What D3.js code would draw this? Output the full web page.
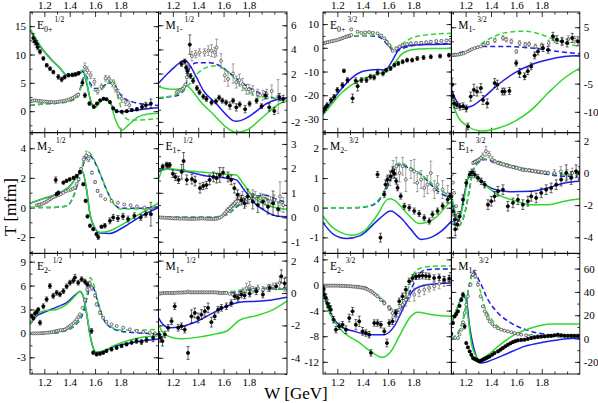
<!DOCTYPE html>
<html>
<head>
<meta charset="utf-8">
<script src="https://cdn.jsdelivr.net/npm/d3@7"></script>
<style>
  body { margin: 0; background: #fff; }
  svg { display: block; }
  text { font-family: "Liberation Serif", "DejaVu Serif", serif; }
</style>
</head>
<body>
<div class="chart"></div>
<script>
'use strict';

// W axis (GeV), shared by all panels
const wTicks = [1.2, 1.4, 1.6, 1.8];
const wMinor = [1.1, 1.3, 1.5, 1.7, 1.9, 2.0];

// ---- E0+ 1/2 ----
const E0p1_gs = [[1.087,14.6],[1.166,11.6],[1.244,9.3],[1.323,7.6],[1.38,6.4],[1.44,6.4],[1.48,6.9],[1.505,7.3],[1.533,5.2],[1.56,2.2],[1.585,0.8],[1.6,0.6],[1.64,1.6],[1.68,2.2],[1.717,1.6],[1.757,-1.3],[1.796,-3.05],[1.814,-3.35],[1.86,-2.5],[1.94,-1.0],[2.02,-0.5],[2.1,-0.35]];
const E0p1_bs = [[1.087,14.3],[1.166,11.5],[1.244,9.4],[1.323,7.6],[1.38,6.3],[1.44,6.3],[1.48,6.7],[1.505,7.0],[1.533,5.0],[1.56,2.3],[1.585,0.8],[1.6,0.7],[1.64,1.7],[1.68,2.2],[1.717,1.5],[1.757,0.2],[1.8,-0.1],[1.9,0.1],[2.0,0.4],[2.1,0.6]];
const E0p1_gd = [[1.087,1.0],[1.2,1.3],[1.3,1.4],[1.4,1.7],[1.46,2.4],[1.49,4.2],[1.52,6.2],[1.56,4.6],[1.6,3.6],[1.65,3.9],[1.7,4.9],[1.745,5.6],[1.77,3.6],[1.8,0.9],[1.83,-1.0],[1.88,-1.6],[2.0,-1.5],[2.1,-1.3]];
const E0p1_bd = [[1.087,1.0],[1.2,1.3],[1.3,1.4],[1.4,1.8],[1.46,2.6],[1.49,4.5],[1.52,6.4],[1.56,5.0],[1.6,4.0],[1.65,4.2],[1.7,4.9],[1.745,5.0],[1.78,3.6],[1.82,2.4],[1.9,1.6],[2.0,1.2],[2.1,1.0]];
const E0p1_re = [[1.113,12.9,0.8],[1.126,12.3,0.6],[1.14,11.9,0.6],[1.148,11.3,0.5],[1.166,10.5,0.4],[1.192,9.3,0.3],[1.219,8.1,0.3],[1.245,7.5,0.3],[1.271,6.9,0.3],[1.31,6.05,0.4],[1.337,5.6,0.4],[1.36,6.0,0.3],[1.39,6.35,0.3],[1.42,6.4,0.3],[1.445,6.5,0.3],[1.47,6.7,0.3],[1.5,5.0,0.5],[1.52,2.8,0.4],[1.555,1.35,0.3],[1.59,0.8,0.3],[1.615,1.35,0.2],[1.64,1.9,0.2],[1.667,2.2,0.2],[1.69,2.1,0.2],[1.717,1.6,0.2],[1.743,0.5,0.2],[1.77,0.0,0.2],[1.81,-0.1,0.2],[1.85,0.0,0.2],[1.89,0.2,0.2],[1.93,0.35,0.3],[1.97,0.75,0.4],[2.0,1.05,0.5],[2.04,1.35,0.8]];
const E0p1_im = [[1.095,1.75,0],[1.11,1.85,0],[1.125,1.9,0],[1.14,1.85,0],[1.155,1.8,0],[1.17,1.8,0],[1.185,1.75,0],[1.2,1.7,0],[1.215,1.7,0],[1.23,1.65,0],[1.245,1.6,0],[1.26,1.6,0],[1.275,1.55,0],[1.29,1.6,0],[1.305,1.65,0],[1.32,1.7,0],[1.335,1.75,0],[1.35,1.8,0],[1.365,1.85,0],[1.38,1.95,0],[1.395,2.05,0],[1.41,2.2,0],[1.425,2.35,0],[1.44,2.55,0],[1.455,2.75,0],[1.467,2.9,0.2],[1.52,7.8,0.7],[1.54,7.2,0.6],[1.565,6.35,0.6],[1.595,5.2,0.6],[1.62,3.5,0.5],[1.65,4.3,0.5],[1.683,5.8,0.5],[1.71,5.7,0.5],[1.737,4.9,0.6],[1.76,4.0,0.6],[1.782,3.1,0.7],[1.81,2.2,0.7],[1.84,1.6,0.6],[1.87,1.06,0.6]];

// ---- M1- 1/2 ----
const M1m1_bs = [[1.087,1.2],[1.15,1.9],[1.22,2.6],[1.294,3.1],[1.34,2.6],[1.386,1.7],[1.44,0.6],[1.543,-0.5],[1.62,-1.4],[1.675,-1.9],[1.7,-1.96],[1.76,-1.8],[1.83,-1.35],[1.937,-0.5],[2.02,-0.15],[2.1,-0.05]];
const M1m1_gs = [[1.087,0.9],[1.18,0.7],[1.26,0.75],[1.306,1.0],[1.36,0.5],[1.412,-0.25],[1.517,-1.35],[1.622,-2.45],[1.7,-2.87],[1.78,-2.7],[1.91,-1.6],[2.04,-0.5],[2.1,-0.25]];
const M1m1_bd = [[1.087,0.0],[1.23,0.17],[1.294,0.7],[1.334,2.5],[1.39,2.9],[1.49,2.9],[1.57,2.65],[1.675,1.8],[1.8,0.85],[1.93,0.17],[2.1,-0.25]];
const M1m1_gd = [[1.087,0.0],[1.255,0.35],[1.306,0.8],[1.39,1.96],[1.465,2.5],[1.543,2.65],[1.65,2.0],[1.727,1.1],[1.83,0.3],[1.93,0.0],[2.1,-0.1]];
const M1m1_re = [[1.268,2.8,0.2],[1.294,3.0,0.2],[1.305,2.5,0.2],[1.315,2.2,0.2],[1.334,4.4,0.8],[1.34,1.8,0.2],[1.36,1.4,0.2],[1.39,0.8,0.2],[1.41,0.45,0.2],[1.44,0.1,0.2],[1.465,-0.1,0.2],[1.505,-0.4,0.2],[1.54,-0.3,0.2],[1.565,0.0,0.2],[1.59,-0.25,0.2],[1.62,-0.4,0.2],[1.65,-0.65,0.3],[1.675,-0.25,0.2],[1.7,-0.8,0.3],[1.727,-0.55,0.2],[1.77,-0.95,0.3],[1.805,-0.5,0.2],[1.86,-0.25,0.2],[1.9,-0.7,0.2],[1.93,0.2,0.3],[1.96,-0.8,0.3],[2.0,-1.1,0.3],[2.04,0.05,0.3],[2.07,-0.1,0.3]];
const M1m1_im = [[1.23,0.45,0],[1.243,0.5,0],[1.255,0.6,0],[1.268,0.65,0],[1.28,0.75,0],[1.29,0.9,0],[1.3,1.1,0],[1.31,1.7,0.3],[1.32,2.5,0.3],[1.35,3.45,0.4],[1.38,3.6,0.3],[1.41,3.75,0.3],[1.45,3.75,0.3],[1.48,3.9,0.4],[1.505,3.9,0.5],[1.53,3.75,0.4],[1.545,4.15,0.7],[1.58,3.05,0.6],[1.61,1.85,0.5],[1.635,1.55,0.6],[1.675,2.0,0.8],[1.7,1.3,0.5],[1.725,1.45,0.5],[1.75,1.1,0.5],[1.78,0.7,0.4],[1.8,0.7,0.4],[1.83,0.6,0.4],[1.87,0.3,0.4],[1.91,0.2,0.4],[1.94,0.3,0.4],[1.98,0.55,0.5],[2.03,0.1,1.4]];

// ---- E0+ 3/2 ----
const E0p3_gs = [[1.087,-28.4],[1.15,-24.2],[1.23,-19.2],[1.31,-15.7],[1.41,-12.9],[1.517,-11.1],[1.6,-9.7],[1.65,-6.6],[1.7,-3.1],[1.757,-1.25],[1.835,-0.55],[1.95,-0.3],[2.1,-0.3]];
const E0p3_bs = [[1.087,-27.6],[1.15,-23.0],[1.23,-17.5],[1.31,-12.9],[1.41,-9.8],[1.517,-9.1],[1.58,-9.4],[1.62,-6.6],[1.65,-3.8],[1.68,-1.0],[1.728,0.7],[1.806,1.15],[1.95,1.4],[2.1,1.6]];
const E0p3_gd = [[1.087,1.7],[1.2,3.0],[1.31,5.0],[1.42,5.3],[1.517,5.3],[1.6,2.55],[1.65,-1.0],[1.7,1.15],[1.78,4.0],[1.885,5.35],[2.1,6.1]];
const E0p3_bd = [[1.087,1.7],[1.2,3.0],[1.31,4.8],[1.42,5.1],[1.517,4.8],[1.61,0.45],[1.65,-1.7],[1.71,-0.3],[1.83,1.15],[2.1,1.85]];
const E0p3_re = [[1.092,-26.3,1],[1.105,-25.3,1],[1.12,-24.2,1],[1.15,-22.1,1],[1.175,-20.7,1],[1.2,-17.8,1],[1.24,-15.7,1],[1.252,-9.7,0.7],[1.28,-13.6,1],[1.32,-21.3,1.8],[1.345,-13.9,1.2],[1.36,-16.2,2],[1.39,-13.6,1],[1.43,-13.6,1],[1.46,-12.2,1],[1.49,-12.5,1],[1.517,-10.5,1],[1.56,-10.8,1],[1.584,-9.4,0.8],[1.62,-8.7,0.8],[1.65,-7.3,0.8],[1.68,-6.6,0.8],[1.715,-5.9,0.8],[1.75,-5.2,0.8],[1.79,-5.2,0.8],[1.83,-4.5,0.8],[1.88,-4.1,0.8],[1.937,-3.8,0.8],[2.01,-3.5,0.8],[2.08,-3.1,0.8]];
const E0p3_im = [[1.087,1.85,0],[1.1,2.0,0],[1.11,2.2,0],[1.125,2.4,0],[1.14,2.6,0],[1.155,2.8,0],[1.17,3.0,0],[1.185,3.1,0],[1.2,3.25,0],[1.215,3.6,0],[1.23,3.9,0],[1.245,4.2,0],[1.26,4.5,0],[1.273,4.7,0],[1.285,4.9,0],[1.298,5.1,0],[1.31,5.4,0],[1.31,7.75,0.4],[1.36,6.75,0.3],[1.39,6.3,0.3],[1.42,6.5,0.3],[1.45,6.6,0.3],[1.48,6.3,0.3],[1.517,6.1,0.3],[1.545,5.2,0.3],[1.57,4.0,0.3],[1.59,2.5,0.3],[1.61,1.15,0.3],[1.636,-1.25,0.4],[1.665,-0.25,0.5],[1.69,0.5,0.5],[1.715,1.15,0.5],[1.75,1.5,0.5],[1.78,1.85,0.5],[1.82,2.0,0.5],[1.86,2.1,0.5],[1.9,2.3,0.5],[1.937,2.55,0.5],[1.98,2.8,0.5],[2.02,2.9,0.5],[2.06,3.1,0.5],[2.09,3.25,0.5]];

// ---- M1- 3/2 ----
const M1m3_gd = [[1.087,0.12],[1.245,1.0],[1.376,2.8],[1.507,4.0],[1.665,4.3],[1.796,3.7],[1.9,2.8],[2.03,1.9],[2.1,1.6]];
const M1m3_bd = [[1.087,0.12],[1.245,1.0],[1.35,1.6],[1.5,1.6],[1.72,1.3],[1.93,0.7],[2.1,0.3]];
const M1m3_gs = [[1.087,-7.9],[1.14,-10.9],[1.22,-12.6],[1.323,-13.4],[1.454,-12.9],[1.586,-11.7],[1.717,-9.7],[1.848,-6.7],[1.98,-4.0],[2.1,-2.25]];
const M1m3_bs = [[1.087,-6.1],[1.14,-8.5],[1.192,-9.2],[1.245,-9.0],[1.35,-7.3],[1.454,-5.2],[1.586,-3.1],[1.717,-1.65],[1.848,-0.77],[1.98,-0.2],[2.1,0.0]];
const M1m3_re = [[1.093,-5.2,1.2],[1.1,-7.2,0.8],[1.11,-8.5,0.8],[1.13,-8.8,0.6],[1.155,-9.1,0.6],[1.18,-9.0,0.6],[1.205,-9.4,0.6],[1.218,-12.6,0.6],[1.24,-7.3,0.8],[1.265,-6.1,1],[1.29,-6.4,0.8],[1.32,-5.8,0.8],[1.337,-7.9,0.8],[1.37,-8.5,0.8],[1.429,-4.9,0.8],[1.45,-5.2,0.8],[1.49,-6.4,0.6],[1.507,-6.4,0.6],[1.545,-6.3,0.6],[1.599,-1.35,0.5],[1.625,-3.1,0.8],[1.665,-3.7,0.6],[1.69,-2.8,0.6],[1.717,-1.95,0.6],[1.744,0.0,0.6],[1.77,0.7,0.6],[1.81,1.3,0.6],[1.85,1.0,0.6],[1.888,3.4,0.7],[1.92,2.8,0.7],[1.96,2.5,0.7],[2.0,2.2,0.7],[2.04,3.1,0.8],[2.085,2.5,0.8]];
const M1m3_im = [[1.087,0.0,0],[1.1,0.05,0],[1.112,0.1,0],[1.125,0.1,0],[1.14,0.15,0],[1.155,0.2,0],[1.17,0.3,0],[1.185,0.4,0],[1.2,0.55,0],[1.22,0.75,0],[1.235,0.95,0],[1.25,1.1,0],[1.27,1.3,0],[1.295,1.45,0],[1.32,1.6,0],[1.345,1.9,0.2],[1.375,2.2,0.3],[1.43,2.7,0.4],[1.494,3.1,0.4],[1.52,2.8,0.4],[1.56,2.5,0.4],[1.6,0.7,0.3],[1.625,2.2,0.4],[1.67,1.9,0.4],[1.7,2.0,0.4],[1.75,1.6,0.4],[1.8,1.8,0.4],[1.855,2.2,0.5],[1.9,2.8,0.5],[1.96,2.5,0.5],[2.01,2.9,0.6],[2.06,2.8,0.6]];

// ---- M2- 1/2 ----
const M2m1_gs = [[1.087,0.29],[1.192,0.6],[1.297,0.9],[1.402,1.45],[1.48,2.35],[1.5,2.46],[1.533,1.23],[1.558,-0.34],[1.598,-1.35],[1.638,-1.68],[1.717,-1.57],[1.82,-1.12],[1.95,-0.45],[2.1,0.3]];
const M2m1_bs = [[1.087,0.29],[1.192,0.6],[1.297,0.9],[1.402,1.45],[1.48,2.3],[1.5,2.4],[1.533,1.2],[1.558,-0.34],[1.598,-1.4],[1.64,-1.72],[1.717,-1.75],[1.82,-1.35],[1.95,-0.65],[2.1,0.0]];
const M2m1_gd = [[1.087,0.0],[1.25,0.0],[1.375,0.1],[1.43,0.78],[1.47,1.9],[1.515,3.25],[1.546,3.75],[1.585,3.35],[1.638,2.35],[1.69,1.23],[1.75,0.22],[1.8,-0.11],[1.95,-0.11],[2.1,0.0]];
const M2m1_bd = [[1.087,0.0],[1.25,0.0],[1.375,0.1],[1.43,0.75],[1.47,1.8],[1.515,3.1],[1.546,3.6],[1.585,3.25],[1.638,2.3],[1.69,1.2],[1.75,0.25],[1.8,-0.05],[1.95,-0.05],[2.1,0.05]];
const M2m1_re = [[1.297,0.9,0.1],[1.31,1.0,0.1],[1.29,1.86,0.2],[1.35,1.68,0.1],[1.375,1.8,0.1],[1.4,1.9,0.1],[1.43,2.0,0.1],[1.455,2.13,0.1],[1.48,2.4,0.1],[1.507,1.57,0.1],[1.525,0.45,0.1],[1.54,-0.6,0.1],[1.56,-1.23,0.1],[1.585,-1.46,0.1],[1.611,-1.8,0.1],[1.625,-2.0,0.15],[1.65,-1.3,0.1],[1.677,-1.23,0.15],[1.717,-0.9,0.2],[1.743,-0.67,0.2],[1.78,-0.74,0.2],[1.82,-0.6,0.2],[1.86,-0.78,0.2],[1.91,-0.56,0.2],[1.96,-0.67,0.2],[2.0,-0.45,0.2],[2.04,-0.45,0.8]];
const M2m1_im = [[1.14,0.15,0],[1.153,0.17,0],[1.166,0.2,0],[1.179,0.24,0],[1.192,0.29,0],[1.206,0.34,0],[1.22,0.4,0],[1.232,0.48,0],[1.245,0.56,0],[1.258,0.63,0],[1.27,0.7,0],[1.285,0.75,0],[1.3,0.8,0],[1.315,0.85,0],[1.33,0.9,0],[1.35,1.0,0],[1.37,1.1,0],[1.39,1.15,0],[1.41,1.2,0],[1.425,1.27,0],[1.44,1.35,0],[1.455,1.6,0],[1.47,1.9,0],[1.49,2.6,0.1],[1.51,3.25,0.2],[1.53,3.5,0.3],[1.55,3.3,0.2],[1.575,2.35,0.1],[1.6,1.72,0.1],[1.62,1.12,0.1],[1.645,0.8,0],[1.68,0.56,0],[1.73,0.44,0],[1.78,0.33,0],[1.83,0.2,0],[1.88,0.15,0],[1.93,0.07,0],[1.99,0.0,0],[2.04,-0.07,0]];

// ---- E1+ 1/2 ----
const E1p1_gs = [[1.087,1.53],[1.12,1.94],[1.176,1.97],[1.307,1.9],[1.465,1.83],[1.622,1.76],[1.7,1.73],[1.753,1.39],[1.832,0.85],[1.937,0.5],[2.04,0.37],[2.1,0.33]];
const E1p1_bs = [[1.087,1.86],[1.15,1.97],[1.307,1.87],[1.465,1.69],[1.622,1.6],[1.7,1.53],[1.753,1.19],[1.832,0.64],[1.937,0.23],[2.02,0.05],[2.1,0.02]];
const E1p1_gd = [[1.087,0.0],[1.3,0.0],[1.5,0.0],[1.622,0.1],[1.7,0.44],[1.776,0.78],[1.85,0.85],[1.93,0.8],[2.01,0.66],[2.1,0.5]];
const E1p1_bd = [[1.087,0.0],[1.3,0.0],[1.5,0.0],[1.622,0.1],[1.7,0.4],[1.776,0.72],[1.85,0.85],[1.93,0.9],[2.01,0.75],[2.1,0.6]];
const E1p1_re = [[1.12,2.07,0.1],[1.15,2.15,0.1],[1.16,2.12,0.1],[1.176,2.14,0.1],[1.2,1.78,0.15],[1.22,1.65,0.15],[1.245,1.53,0.15],[1.27,1.86,0.3],[1.285,2.3,0.35],[1.31,1.53,0.2],[1.35,1.56,0.2],[1.375,1.48,0.2],[1.414,1.19,0.2],[1.44,1.28,0.15],[1.465,1.32,0.15],[1.49,1.53,0.2],[1.52,1.65,0.2],[1.545,1.6,0.2],[1.57,1.73,0.3],[1.596,1.83,0.2],[1.635,1.65,0.2],[1.66,1.53,0.2],[1.685,1.19,0.2],[1.71,0.92,0.2],[1.74,0.7,0.2],[1.765,0.57,0.2],[1.79,0.85,0.3],[1.83,0.64,0.3],[1.87,0.5,0.3],[1.91,0.64,0.3],[1.95,0.43,0.3],[1.99,0.57,0.5],[2.03,0.33,0.3]];
const E1p1_im = [[1.09,0.0,0],[1.105,-0.01,0],[1.12,-0.02,0],[1.135,-0.02,0],[1.15,-0.03,0],[1.165,-0.03,0],[1.18,-0.04,0],[1.195,-0.04,0],[1.21,-0.05,0],[1.225,-0.05,0],[1.24,-0.05,0],[1.255,-0.06,0],[1.27,-0.05,0],[1.285,-0.06,0],[1.3,-0.06,0],[1.315,-0.06,0],[1.33,-0.07,0],[1.345,-0.07,0],[1.36,-0.07,0],[1.375,-0.06,0],[1.39,-0.06,0],[1.405,-0.06,0],[1.42,-0.05,0],[1.435,-0.05,0],[1.45,-0.06,0],[1.465,-0.06,0],[1.48,-0.07,0],[1.495,-0.07,0],[1.51,-0.07,0],[1.525,-0.07,0],[1.54,-0.06,0],[1.555,-0.05,0],[1.57,-0.02,0],[1.585,0.03,0],[1.6,0.1,0],[1.61,0.16,0],[1.622,0.23,0.1],[1.635,0.3,0.1],[1.65,0.37,0.1],[1.662,0.44,0.1],[1.675,0.5,0.1],[1.688,0.57,0.1],[1.7,0.64,0.15],[1.725,0.78,0.2],[1.75,0.85,0.2],[1.776,0.64,0.2],[1.8,0.78,0.2],[1.83,0.92,0.2],[1.85,0.85,0.2],[1.89,0.78,0.2],[1.93,0.71,0.2],[1.97,0.64,0.2],[2.0,0.71,0.2],[2.045,0.85,0.6],[2.07,0.5,0.3]];

// ---- M2- 3/2 ----
const M2m3_gd = [[1.087,0.0],[1.3,0.0],[1.41,0.03],[1.49,0.14],[1.57,0.56],[1.62,1.06],[1.65,1.4],[1.7,1.51],[1.757,1.4],[1.86,1.12],[1.937,0.84],[2.01,0.6],[2.1,0.39]];
const M2m3_bd = [[1.087,0.0],[1.3,0.0],[1.41,0.02],[1.49,0.11],[1.57,0.5],[1.62,0.95],[1.65,1.3],[1.7,1.46],[1.757,1.35],[1.86,1.12],[1.937,0.78],[2.01,0.5],[2.1,0.33]];
const M2m3_gs = [[1.087,-0.28],[1.15,-0.62],[1.23,-0.84],[1.31,-0.93],[1.41,-0.79],[1.51,-0.28],[1.596,0.28],[1.62,0.3],[1.65,0.25],[1.757,-0.23],[1.845,-0.53],[1.9,-0.5],[1.99,-0.28],[2.07,0.11],[2.1,0.2]];
const M2m3_bs = [[1.087,-0.5],[1.17,-0.9],[1.27,-1.04],[1.38,-0.94],[1.54,-0.34],[1.62,-0.11],[1.7,-0.34],[1.78,-0.73],[1.86,-1.07],[1.94,-1.0],[2.02,-0.79],[2.1,-0.45]];
const M2m3_re = [[1.517,1.12,0.1],[1.54,-1.01,0.15],[1.57,0.45,0.1],[1.58,0.78,0.15],[1.596,0.95,0.15],[1.62,1.06,0.15],[1.636,1.23,0.15],[1.65,1.15,0.15],[1.664,0.9,0.1],[1.675,0.67,0.1],[1.7,0.39,0.1],[1.728,0.05,0.1],[1.767,0.0,0.1],[1.806,-0.11,0.1],[1.845,-0.2,0.1],[1.885,-0.34,0.1],[1.925,-0.45,0.1],[1.95,-0.22,0.1],[1.99,-0.11,0.1],[2.03,0.06,0.1],[2.07,0.28,0.1],[2.09,0.39,0.1]];
const M2m3_im = [[1.59,0.84,0.2],[1.615,1.0,0.25],[1.64,1.29,0.3],[1.665,1.4,0.3],[1.69,1.17,0.3],[1.715,1.4,0.3],[1.74,0.95,0.4],[1.78,1.29,0.3],[1.806,1.23,0.4],[1.83,0.84,0.3],[1.86,0.95,0.3],[1.885,0.67,0.3],[1.91,0.78,0.3],[1.937,1.17,0.4],[1.965,0.61,0.3],[1.99,0.78,0.3],[2.03,0.61,0.3],[2.07,0.45,0.3]];

// ---- E1+ 3/2 ----
const E1p3_gs = [[1.087,-1.24],[1.113,-2.28],[1.14,-2.9],[1.165,-2.5],[1.192,-1.45],[1.218,-0.31],[1.245,0.04],[1.28,-0.2],[1.35,-0.73],[1.454,-1.35],[1.56,-1.66],[1.717,-1.97],[1.85,-1.97],[1.98,-1.76],[2.1,-1.61]];
const E1p3_bs = [[1.087,-1.45],[1.113,-2.5],[1.14,-3.0],[1.165,-2.4],[1.192,-1.24],[1.218,-0.31],[1.245,0.04],[1.3,-0.31],[1.376,-0.83],[1.454,-1.08],[1.56,-1.17],[1.717,-1.14],[1.848,-0.93],[1.98,-0.62],[2.1,-0.52]];
const E1p3_gd = [[1.087,-3.1],[1.14,-3.3],[1.19,-2.6],[1.23,-1.04],[1.255,0.0],[1.295,0.62],[1.35,0.87],[1.454,0.72],[1.586,0.41],[1.717,0.2],[1.85,0.0],[1.98,-0.1],[2.1,-0.1]];
const E1p3_bd = [[1.087,-3.1],[1.14,-3.3],[1.19,-2.6],[1.23,-1.04],[1.255,0.0],[1.295,0.6],[1.35,0.83],[1.454,0.6],[1.586,0.3],[1.717,0.1],[1.85,-0.1],[1.98,-0.2],[2.1,-0.2]];
const E1p3_re = [[1.087,-1.45,0.2],[1.1,-2.38,0.3],[1.114,-2.9,0.3],[1.118,-3.5,0.4],[1.134,-3.2,0.3],[1.153,-2.7,0.3],[1.179,-1.66,0.3],[1.205,-0.62,0.2],[1.232,-0.1,0.2],[1.25,0.04,0.2],[1.271,-0.1,0.2],[1.297,-0.31,0.2],[1.323,-0.52,0.2],[1.35,-0.73,0.2],[1.376,-1.97,0.3],[1.402,-1.76,0.3],[1.428,-1.45,0.3],[1.455,-1.14,0.3],[1.494,-1.04,0.3],[1.533,-2.07,0.3],[1.573,-1.86,0.3],[1.612,-1.66,0.3],[1.651,-1.97,0.3],[1.691,-1.76,0.3],[1.717,-1.45,0.3],[1.756,-1.55,0.3],[1.796,-1.24,0.3],[1.835,-1.04,0.3],[1.874,-0.93,0.3],[1.914,-0.73,0.3],[1.953,-0.41,0.4],[1.993,0.0,0.5],[2.032,-0.31,0.4],[2.071,0.1,0.4],[2.097,0.0,0.4]];
const E1p3_im = [[1.09,-0.1,0],[1.1,-0.6,0],[1.11,-1.24,0],[1.125,-2.07,0],[1.14,-2.6,0.2],[1.26,0.62,0.1],[1.272,0.68,0.1],[1.285,0.72,0.1],[1.297,0.78,0.1],[1.31,0.83,0.1],[1.322,0.93,0.1],[1.335,1.04,0.2],[1.36,1.35,0.3],[1.385,1.14,0.2],[1.41,0.83,0.2],[1.43,0.72,0.1],[1.455,0.62,0.1],[1.478,0.57,0.1],[1.5,0.52,0.1],[1.525,0.46,0.1],[1.55,0.41,0.1],[1.575,0.36,0.1],[1.6,0.31,0.1],[1.625,0.26,0.1],[1.65,0.2,0.1],[1.675,0.18,0.1],[1.7,0.16,0.1],[1.725,0.13,0.1],[1.75,0.1,0.1],[1.775,0.07,0.1],[1.8,0.04,0.1],[1.825,0.02,0.1],[1.85,0.0,0.1],[1.9,0.0,0.2],[1.95,0.1,0.3],[2.0,-0.1,0.3],[2.04,0.0,0.3],[2.09,-0.2,0.3]];

// ---- E2- 1/2 ----
const E2m1_gs = [[1.087,1.13],[1.14,2.38],[1.192,2.8],[1.297,3.0],[1.376,3.64],[1.455,4.9],[1.48,5.3],[1.507,4.7],[1.533,2.6],[1.56,-0.13],[1.585,-1.8],[1.611,-2.33],[1.664,-2.2],[1.743,-1.58],[1.848,-0.95],[1.953,-0.54],[2.1,-0.3]];
const E2m1_bs = [[1.087,1.13],[1.14,2.2],[1.192,2.6],[1.297,3.3],[1.376,3.85],[1.455,5.0],[1.48,5.25],[1.507,4.6],[1.533,2.5],[1.56,-0.2],[1.585,-1.85],[1.611,-2.4],[1.664,-2.3],[1.743,-1.7],[1.848,-1.3],[1.953,-1.0],[2.1,-0.7]];
const E2m1_gd = [[1.087,0.0],[1.25,0.0],[1.35,0.3],[1.43,0.92],[1.507,2.93],[1.546,5.7],[1.56,7.0],[1.585,6.36],[1.625,3.85],[1.664,1.76],[1.717,0.92],[1.796,0.43],[1.9,0.4],[2.0,0.43],[2.1,0.5]];
const E2m1_bd = [[1.087,0.0],[1.25,0.0],[1.35,0.25],[1.43,0.85],[1.507,2.6],[1.546,5.1],[1.565,6.2],[1.59,5.6],[1.63,3.5],[1.67,1.7],[1.717,0.8],[1.796,0.3],[1.9,0.1],[2.0,0.0],[2.1,-0.1]];
const E2m1_re = [[1.1,2.2,0.2],[1.113,1.9,0.2],[1.126,2.5,0.2],[1.14,2.7,0.2],[1.152,3.0,0.2],[1.166,1.34,0.3],[1.192,3.4,0.3],[1.218,4.27,0.3],[1.244,5.95,0.3],[1.27,4.7,0.3],[1.297,5.1,0.3],[1.323,4.9,0.3],[1.35,5.3,0.3],[1.376,5.9,0.3],[1.402,6.36,0.3],[1.428,6.6,0.3],[1.441,7.0,0.4],[1.467,6.36,0.3],[1.494,6.8,0.3],[1.52,6.5,0.3],[1.538,6.15,0.3],[1.572,0.3,0.3],[1.585,-2.42,0.2],[1.612,-2.63,0.2],[1.638,-2.55,0.2],[1.664,-2.42,0.2],[1.69,-2.2,0.2],[1.73,-2.0,0.2],[1.77,-1.8,0.2],[1.809,-1.58,0.2],[1.848,-1.37,0.2],[1.888,-1.16,0.2],[1.927,-0.95,0.3],[1.966,-1.08,0.3],[2.006,-0.82,0.3],[2.058,-0.54,0.5]];
const E2m1_im = [[1.113,0.0,0],[1.128,0.0,0],[1.145,0.0,0],[1.16,0.02,0],[1.176,0.03,0],[1.19,0.04,0],[1.2,0.05,0],[1.215,0.07,0],[1.23,0.1,0],[1.245,0.12,0],[1.26,0.16,0],[1.275,0.22,0],[1.29,0.27,0],[1.3,0.3,0],[1.315,0.36,0],[1.33,0.4,0],[1.348,0.45,0],[1.363,0.5,0],[1.38,0.65,0],[1.39,0.78,0],[1.402,0.92,0],[1.415,1.1,0],[1.43,1.3,0],[1.443,1.5,0],[1.455,1.76,0],[1.468,2.05,0],[1.48,2.38,0],[1.502,3.2,0],[1.52,4.2,0],[1.538,5.5,0.2],[1.559,6.27,0.3],[1.573,5.7,0.3],[1.6,4.75,0.2],[1.612,3.64,0.2],[1.638,2.6,0.2],[1.664,1.97,0.1],[1.69,1.45,0.1],[1.73,1.13,0],[1.77,0.92,0],[1.822,0.71,0],[1.874,0.5,0],[1.927,0.3,0],[1.979,0.17,0],[2.032,0.08,0],[2.071,0.0,0]];

// ---- M1+ 1/2 ----
const M1p1_gs = [[1.087,-1.95],[1.123,-2.46],[1.176,-2.7],[1.255,-2.83],[1.36,-2.77],[1.517,-2.56],[1.622,-2.36],[1.727,-1.68],[1.859,-1.4],[1.99,-1.03],[2.1,-0.5]];
const M1p1_bs = [[1.087,-1.54],[1.123,-1.95],[1.176,-2.15],[1.255,-2.09],[1.36,-1.85],[1.517,-1.23],[1.622,-0.82],[1.727,-0.57],[1.859,-0.51],[1.99,-0.41],[2.1,-0.26]];
const M1p1_gd = [[1.087,0.0],[1.3,0.03],[1.517,0.04],[1.67,0.1],[1.79,0.25],[1.86,0.31],[1.99,0.31],[2.1,0.2]];
const M1p1_bd = [[1.087,0.0],[1.3,0.0],[1.517,0.02],[1.67,0.06],[1.79,0.2],[1.86,0.25],[1.99,0.28],[2.1,0.17]];
const M1p1_re = [[1.092,-2.56,0.2],[1.102,-2.77,0.2],[1.118,-2.97,0.3],[1.137,-2.56,0.2],[1.163,-2.15,0.2],[1.19,-1.74,0.2],[1.215,-0.82,0.2],[1.242,-2.15,0.2],[1.268,-2.05,0.2],[1.294,-2.26,0.2],[1.32,-3.7,0.4],[1.347,-1.44,0.4],[1.373,-1.23,0.3],[1.399,-1.54,0.3],[1.425,-1.33,0.3],[1.452,-1.13,0.3],[1.478,-0.92,0.3],[1.504,-1.8,0.3],[1.53,-1.44,0.2],[1.557,-1.03,0.2],[1.583,-0.92,0.2],[1.622,-0.82,0.2],[1.661,-0.62,0.2],[1.688,-0.2,0.2],[1.714,-0.31,0.2],[1.74,-0.1,0.2],[1.766,-0.15,0.2],[1.806,-0.04,0.2],[1.858,0.1,0.2],[1.91,-0.1,0.2],[1.963,0.31,0.2],[2.015,0.41,0.2],[2.055,1.03,0.4],[2.081,0.6,0.3]];
const M1p1_im = [[1.097,-0.04,0],[1.11,-0.02,0],[1.124,0.0,0],[1.137,0.0,0],[1.15,0.0,0],[1.163,0.0,0],[1.176,0.01,0],[1.19,0.0,0],[1.202,0.0,0],[1.215,0.01,0],[1.228,0.02,0],[1.242,0.02,0],[1.255,0.02,0],[1.268,0.03,0],[1.281,0.03,0],[1.294,0.04,0],[1.307,0.04,0],[1.32,0.08,0],[1.334,0.04,0],[1.347,0.04,0],[1.36,0.04,0],[1.373,0.04,0],[1.386,0.04,0],[1.399,0.04,0],[1.412,0.05,0],[1.425,0.04,0],[1.438,0.04,0],[1.452,0.04,0],[1.465,0.04,0],[1.478,0.04,0],[1.491,0.04,0],[1.504,0.05,0],[1.517,0.04,0],[1.53,0.04,0],[1.544,0.03,0],[1.557,0.02,0],[1.57,0.0,0],[1.583,0.0,0],[1.596,0.01,0],[1.609,0.0,0],[1.622,0.0,0],[1.648,-0.05,0],[1.674,-0.1,0],[1.7,-0.2,0.1],[1.727,-0.05,0.1],[1.753,0.1,0.2],[1.78,0.3,0.3],[1.806,0.41,0.3],[1.832,0.2,0.2],[1.871,0.3,0.2],[1.91,0.2,0.2],[1.95,0.3,0.2],[1.99,0.41,0.2],[2.042,0.62,0.4],[2.082,0.3,0.2]];

// ---- E2- 3/2 ----
const E2m3_gd = [[1.087,-0.1],[1.281,-0.1],[1.412,-0.31],[1.491,-1.25],[1.57,-2.55],[1.622,-3.6],[1.675,-3.85],[1.727,-2.29],[1.766,-0.2],[1.806,1.875],[1.858,2.66],[1.937,2.9],[2.1,3.0]];
const E2m3_bd = [[1.087,-0.1],[1.281,-0.1],[1.412,-0.31],[1.491,-1.25],[1.57,-2.81],[1.622,-3.85],[1.675,-4.1],[1.727,-2.81],[1.78,-0.73],[1.832,1.35],[1.885,2.29],[1.99,2.5],[2.1,2.5]];
const E2m3_bs = [[1.087,-0.99],[1.123,-3.33],[1.176,-5.42],[1.228,-6.46],[1.333,-7.24],[1.465,-7.76],[1.57,-7.76],[1.648,-6.46],[1.727,-3.33],[1.793,-0.99],[1.858,-0.2],[1.99,0.21],[2.1,0.3]];
const E2m3_gs = [[1.087,-0.99],[1.123,-3.6],[1.176,-5.68],[1.254,-7.5],[1.36,-8.8],[1.465,-10.4],[1.556,-11.3],[1.622,-10.4],[1.701,-7.5],[1.78,-4.9],[1.832,-4.27],[1.937,-4.6],[2.1,-4.9]];
const E2m3_re = [[1.092,-0.6,0.5],[1.097,-1.5,0.6],[1.11,-2.0,0.6],[1.123,-2.9,0.6],[1.136,-3.4,0.6],[1.149,-3.85,0.6],[1.17,-5.42,0.5],[1.189,-6.98,0.5],[1.215,-6.46,0.5],[1.241,-6.2,0.5],[1.268,-6.98,0.6],[1.294,-5.16,0.6],[1.32,-4.1,0.6],[1.346,-6.2,0.8],[1.373,-5.68,0.8],[1.399,-7.24,0.6],[1.425,-7.5,0.5],[1.451,-7.76,0.5],[1.465,-10.6,0.5],[1.491,-5.94,0.5],[1.517,-5.94,0.5],[1.543,-6.2,0.5],[1.57,-7.24,0.5],[1.591,-9.06,0.6],[1.609,-5.94,0.5],[1.635,-5.68,0.5],[1.661,-4.38,0.5],[1.688,-2.55,0.5],[1.714,-1.77,0.5],[1.74,-0.73,0.5],[1.766,0.57,0.5],[1.793,1.09,0.5],[1.819,1.35,0.5],[1.845,1.4,0.5],[1.871,1.46,0.5],[1.898,1.4,0.5],[1.924,1.35,0.5],[1.963,1.09,0.5],[2.003,1.2,0.5],[2.042,0.83,0.5],[2.082,1.0,0.5]];
const E2m3_im = [[1.097,-0.1,0],[1.11,-0.1,0],[1.123,-0.1,0],[1.136,-0.1,0],[1.149,-0.1,0],[1.162,-0.1,0],[1.176,-0.1,0],[1.189,-0.1,0],[1.202,-0.1,0],[1.215,-0.12,0],[1.228,-0.13,0],[1.241,-0.14,0],[1.254,-0.15,0],[1.268,-0.16,0],[1.281,-0.17,0],[1.294,-0.19,0],[1.307,-0.2,0],[1.32,-0.23,0],[1.333,-0.26,0],[1.346,-0.28,0],[1.36,-0.31,0],[1.373,-0.35,0],[1.386,-0.39,0],[1.399,-0.43,0],[1.412,-0.47,0],[1.425,-0.58,0],[1.438,-0.7,0],[1.452,-0.84,0],[1.465,-0.99,0],[1.478,-1.17,0],[1.491,-1.36,0],[1.504,-1.56,0],[1.517,-1.77,0.2],[1.543,-2.29,0.2],[1.57,-2.81,0.3],[1.609,-3.6,0.4],[1.635,-4.38,0.5],[1.661,-4.9,0.8],[1.688,-3.85,0.6],[1.714,-3.1,0.8],[1.74,-2.29,1.0],[1.766,-1.77,0.8],[1.806,-1.51,1.0],[1.845,-0.99,0.8],[1.885,-0.73,0.8],[1.924,-0.47,0.6],[1.963,-0.2,0.6],[2.003,0.21,0.8],[2.042,0.57,0.8],[2.082,0.73,0.8]];

// ---- M1+ 3/2 ----
const M1p3_gs = [[1.087,13.3],[1.139,27.6],[1.179,36.2],[1.192,37.6],[1.218,19.0],[1.245,-3.9],[1.284,-15.3],[1.31,-18.1],[1.376,-13.9],[1.455,-6.7],[1.586,3.3],[1.717,9.0],[1.874,12.4],[2.1,12.4]];
const M1p3_bs = [[1.087,11.9],[1.139,27.6],[1.179,36.2],[1.205,33.3],[1.232,10.0],[1.284,-15.3],[1.323,-21.0],[1.376,-19.6],[1.507,-13.9],[1.664,-6.7],[1.822,-3.0],[1.979,-0.4],[2.1,0.4]];
const M1p3_gd = [[1.087,0.4],[1.139,4.7],[1.192,21.9],[1.232,47.6],[1.258,56.2],[1.297,47.6],[1.349,27.6],[1.428,13.3],[1.533,6.1],[1.664,3.3],[1.822,1.9],[1.979,1.3],[2.1,1.3]];
const M1p3_bd = [[1.087,0.4],[1.139,4.7],[1.192,21.9],[1.232,47.6],[1.258,57.6],[1.31,49.0],[1.376,33.3],[1.455,21.9],[1.559,13.3],[1.717,6.1],[1.874,3.0],[2.1,1.3]];
const M1p3_re = [[1.087,4.0,1],[1.1,13.3,1],[1.113,19.0,1],[1.126,21.0,1],[1.139,23.3,1],[1.152,28.0,1],[1.166,33.3,1.5],[1.179,37.6,2],[1.192,10.4,2],[1.205,-3.9,1],[1.218,-7.5,1],[1.232,-11.0,1],[1.245,-14.0,1],[1.258,-16.7,1],[1.271,-17.5,1],[1.284,-18.1,1],[1.297,-19.0,1],[1.31,-19.6,1],[1.323,-19.0,1],[1.336,-18.1,1],[1.35,-17.4,1],[1.363,-16.7,1],[1.376,-16.0,1],[1.389,-15.3,1],[1.41,-13.8,1],[1.428,-12.4,1],[1.455,-11.0,1],[1.475,-9.5,1],[1.494,-8.1,1],[1.513,-6.7,1],[1.533,-5.3,1],[1.553,-4.1,1],[1.573,-3.0,1],[1.592,-2.2,1],[1.612,-1.6,1],[1.638,-1.2,1],[1.664,-1.0,1],[1.69,-0.3,1],[1.717,0.4,1],[1.743,0.9,1],[1.769,1.3,1],[1.795,1.6,1],[1.822,1.9,1],[1.848,2.1,1],[1.874,2.4,1],[1.9,2.8,1],[1.927,3.3,1],[1.953,2.8,1],[1.979,2.4,1],[2.006,2.4,1],[2.032,2.4,1],[2.058,2.4,1],[2.084,2.4,1]];
const M1p3_im = [[1.139,0.4,0],[1.152,3.5,0],[1.166,7.6,0],[1.179,14.0,0],[1.192,21.9,0],[1.205,29.0,0],[1.218,36.2,0],[1.239,46.2,1],[1.258,54.7,1.5],[1.276,53.3,1.5],[1.297,46.2,1],[1.318,36.2,1],[1.336,27.6,0.8],[1.35,23.5,0.5],[1.363,20.5,0.5],[1.376,17.5,0.5],[1.389,14.7,0.5],[1.41,12.4,0.5],[1.428,10.4,0.5],[1.455,8.9,0.5],[1.481,7.6,0.5],[1.507,6.8,0.5],[1.533,6.1,0.5],[1.56,5.4,0.5],[1.586,4.7,0.5],[1.612,4.0,0.5],[1.638,3.3,0.5],[1.677,2.8,0.5],[1.717,2.4,0.5],[1.77,2.1,0.5],[1.822,1.9,0.5],[1.874,2.1,0.5],[1.927,2.4,0.5],[1.98,2.4,0.5],[2.032,2.4,0.5],[2.097,1.9,0.5]];

// panel table: label = [letter, subscript, superscript]
const panels = [
  {label:['E','0+','1/2'], row:0, col:0, y:[-3.8,17.5],  ticks:[0,5,10,15],      minor:2.5, gs:E0p1_gs, gd:E0p1_gd, bs:E0p1_bs, bd:E0p1_bd, re:E0p1_re, im:E0p1_im},
  {label:['M','1-','1/2'], row:0, col:1, y:[-2.9,7.1],   ticks:[-2,0,2,4,6],     minor:1,   gs:M1m1_gs, gd:M1m1_gd, bs:M1m1_bs, bd:M1m1_bd, re:M1m1_re, im:M1m1_im},
  {label:['E','0+','3/2'], row:0, col:2, y:[-35.8,15.1], ticks:[-30,-20,-10,0,10], minor:5, gs:E0p3_gs, gd:E0p3_gd, bs:E0p3_bs, bd:E0p3_bd, re:E0p3_re, im:E0p3_im},
  {label:['M','1-','3/2'], row:0, col:3, y:[-13.7,7.7],  ticks:[-10,-5,0,5],     minor:2.5, gs:M1m3_gs, gd:M1m3_gd, bs:M1m3_bs, bd:M1m3_bd, re:M1m3_re, im:M1m3_im},
  {label:['M','2-','1/2'], row:1, col:0, y:[-3.1,5.05],  ticks:[-2,0,2,4],       minor:1,   gs:M2m1_gs, gd:M2m1_gd, bs:M2m1_bs, bd:M2m1_bd, re:M2m1_re, im:M2m1_im},
  {label:['E','1+','1/2'], row:1, col:1, y:[-1.48,3.46], ticks:[-1,0,1,2,3],     minor:0.5, gs:E1p1_gs, gd:E1p1_gd, bs:E1p1_bs, bd:E1p1_bd, re:E1p1_re, im:E1p1_im},
  {label:['M','2-','3/2'], row:1, col:2, y:[-1.54,2.53], ticks:[-1,0,1,2],       minor:0.5, gs:M2m3_gs, gd:M2m3_gd, bs:M2m3_bs, bd:M2m3_bd, re:M2m3_re, im:M2m3_im},
  {label:['E','1+','3/2'], row:1, col:3, y:[-5,2.5],     ticks:[-4,-2,0,2],      minor:1,   gs:E1p3_gs, gd:E1p3_gd, bs:E1p3_bs, bd:E1p3_bd, re:E1p3_re, im:E1p3_im},
  {label:['E','2-','1/2'], row:2, col:0, y:[-5.1,10.05], ticks:[-3,0,3,6,9],     minor:1.5, gs:E2m1_gs, gd:E2m1_gd, bs:E2m1_bs, bd:E2m1_bd, re:E2m1_re, im:E2m1_im},
  {label:['M','1+','1/2'], row:2, col:1, y:[-5,2.45],    ticks:[-4,-2,0,2],      minor:1,   gs:M1p1_gs, gd:M1p1_gd, bs:M1p1_bs, bd:M1p1_bd, re:M1p1_re, im:M1p1_im},
  {label:['E','2-','3/2'], row:2, col:2, y:[-13.9,4.95], ticks:[-12,-8,-4,0,4],  minor:2,   gs:E2m3_gs, gd:E2m3_gd, bs:E2m3_bs, bd:E2m3_bd, re:E2m3_re, im:E2m3_im},
  {label:['M','1+','3/2'], row:2, col:3, y:[-30.4,73.1], ticks:[-20,0,20,40,60], minor:10,  gs:M1p3_gs, gd:M1p3_gd, bs:M1p3_bs, bd:M1p3_bd, re:M1p3_re, im:M1p3_im}
];

const FULL_WIDTH = 598;
const FULL_HEIGHT = 403;
const colX = [30, 158.5, 323, 451.3];
const rowY = [12, 132.7, 253.3];
const PW = 128.5;
const PH = 120.7;

const GREEN = '#2fd82f';
const BLUE = '#1f1fe8';

const svg = d3.select('.chart')
  .append('svg')
    .attr('width', FULL_WIDTH)
    .attr('height', FULL_HEIGHT);

const x = d3.scaleLinear().domain([1.087, 2.1]).range([0, PW]);

function minorTicks(domain, step) {
  const out = [];
  const start = Math.ceil(domain[0] / step) * step;
  for (let v = start; v <= domain[1] + 1e-9; v += step) out.push(+v.toFixed(4));
  return out;
}

function styleAxis(g) {
  g.select('.domain').remove();
  g.attr('font-family', null).attr('font-size', 11);
  g.selectAll('line').attr('stroke', '#000').attr('stroke-width', 0.8);
  g.selectAll('text').attr('fill', '#000');
}

panels.forEach((p, i) => {
  const g = svg.append('g')
    .attr('transform', 'translate(' + colX[p.col] + ',' + rowY[p.row] + ')');

  const y = d3.scaleLinear().domain(p.y).range([PH, 0]);
  const labelsLeft = p.col % 2 === 0;
  const fmt = (d) => String(d);

  g.append('clipPath').attr('id', 'clip' + i)
    .append('rect').attr('width', PW).attr('height', PH);

  // y axes, ticks pointing inward on both sides
  const yMinor = minorTicks(p.y, p.minor);
  g.append('g').call(d3.axisLeft(y).tickValues(yMinor).tickSize(-2.5).tickFormat('')).call(styleAxis);
  g.append('g').attr('transform', 'translate(' + PW + ',0)')
    .call(d3.axisRight(y).tickValues(yMinor).tickSize(-2.5).tickFormat('')).call(styleAxis);
  g.append('g').call(d3.axisLeft(y).tickValues(p.ticks).tickSize(-5).tickPadding(4)
      .tickFormat(labelsLeft ? fmt : '')).call(styleAxis);
  g.append('g').attr('transform', 'translate(' + PW + ',0)')
    .call(d3.axisRight(y).tickValues(p.ticks).tickSize(-5).tickPadding(4)
      .tickFormat(labelsLeft ? '' : fmt)).call(styleAxis);

  // x axes
  const xfmt = d3.format('.1f');
  g.append('g').call(d3.axisTop(x).tickValues(wMinor).tickSize(-2.5).tickFormat('')).call(styleAxis);
  g.append('g').attr('transform', 'translate(0,' + PH + ')')
    .call(d3.axisBottom(x).tickValues(wMinor).tickSize(-2.5).tickFormat('')).call(styleAxis);
  g.append('g').call(d3.axisTop(x).tickValues(wTicks).tickSize(-5).tickPadding(3)
      .tickFormat(p.row === 0 ? xfmt : '')).call(styleAxis);
  g.append('g').attr('transform', 'translate(0,' + PH + ')')
    .call(d3.axisBottom(x).tickValues(wTicks).tickSize(-5).tickPadding(4)
      .tickFormat(p.row === 2 ? xfmt : '')).call(styleAxis);

  const plot = g.append('g').attr('clip-path', 'url(#clip' + i + ')');

  const line = d3.line()
    .x((d) => x(d[0]))
    .y((d) => y(d[1]))
    .curve(d3.curveMonotoneX);

  const curves = [
    {data: p.bd, color: BLUE, dash: '5,3'},
    {data: p.gd, color: GREEN, dash: '5,3'},
    {data: p.bs, color: BLUE, dash: null},
    {data: p.gs, color: GREEN, dash: null}
  ];
  curves.forEach((c) => {
    plot.append('path')
      .datum(c.data)
      .attr('d', line)
      .attr('fill', 'none')
      .attr('stroke', c.color)
      .attr('stroke-width', 1.5)
      .attr('stroke-dasharray', c.dash);
  });

  // data points with error bars
  function drawPoints(data, filled) {
    const col = filled ? '#000' : '#666';
    const withErr = data.filter((d) => d[2] > 0);
    plot.selectAll(null).data(withErr).enter().append('path')
      .attr('d', (d) => {
        const px = x(d[0]);
        const y0 = y(d[1] - d[2]);
        const y1 = y(d[1] + d[2]);
        return 'M' + px + ',' + y0 + 'V' + y1 +
          'M' + (px - 1.5) + ',' + y0 + 'H' + (px + 1.5) +
          'M' + (px - 1.5) + ',' + y1 + 'H' + (px + 1.5);
      })
      .attr('stroke', col)
      .attr('stroke-width', 0.6)
      .attr('fill', 'none');
    plot.selectAll(null).data(data).enter().append('circle')
      .attr('cx', (d) => x(d[0]))
      .attr('cy', (d) => y(d[1]))
      .attr('r', filled ? 1.6 : 1.5)
      .attr('fill', filled ? '#000' : '#eee')
      .attr('stroke', filled ? '#000' : '#444')
      .attr('stroke-width', 0.7);
  }
  drawPoints(p.im, false);
  drawPoints(p.re, true);

  g.append('rect')
    .attr('width', PW).attr('height', PH)
    .attr('fill', 'none').attr('stroke', '#000').attr('stroke-width', 0.9);

  // multipole label
  const t = g.append('text')
    .attr('x', 7).attr('y', 17)
    .attr('font-size', 11.5);
  t.append('tspan').text(p.label[0]);
  t.append('tspan').attr('font-size', 8).attr('dy', 3).text(p.label[1]);
  t.append('tspan').attr('font-size', 7.5).attr('dx', 2).attr('dy', -10).text(p.label[2]);
});

svg.append('text')
  .attr('transform', 'translate(16,207) rotate(-90)')
  .attr('text-anchor', 'middle')
  .attr('font-size', 17)
  .text('T [mfm]');

svg.append('text')
  .attr('x', 296).attr('y', 399)
  .attr('text-anchor', 'middle')
  .attr('font-size', 17)
  .text('W [GeV]');
</script>
</body>
</html>
